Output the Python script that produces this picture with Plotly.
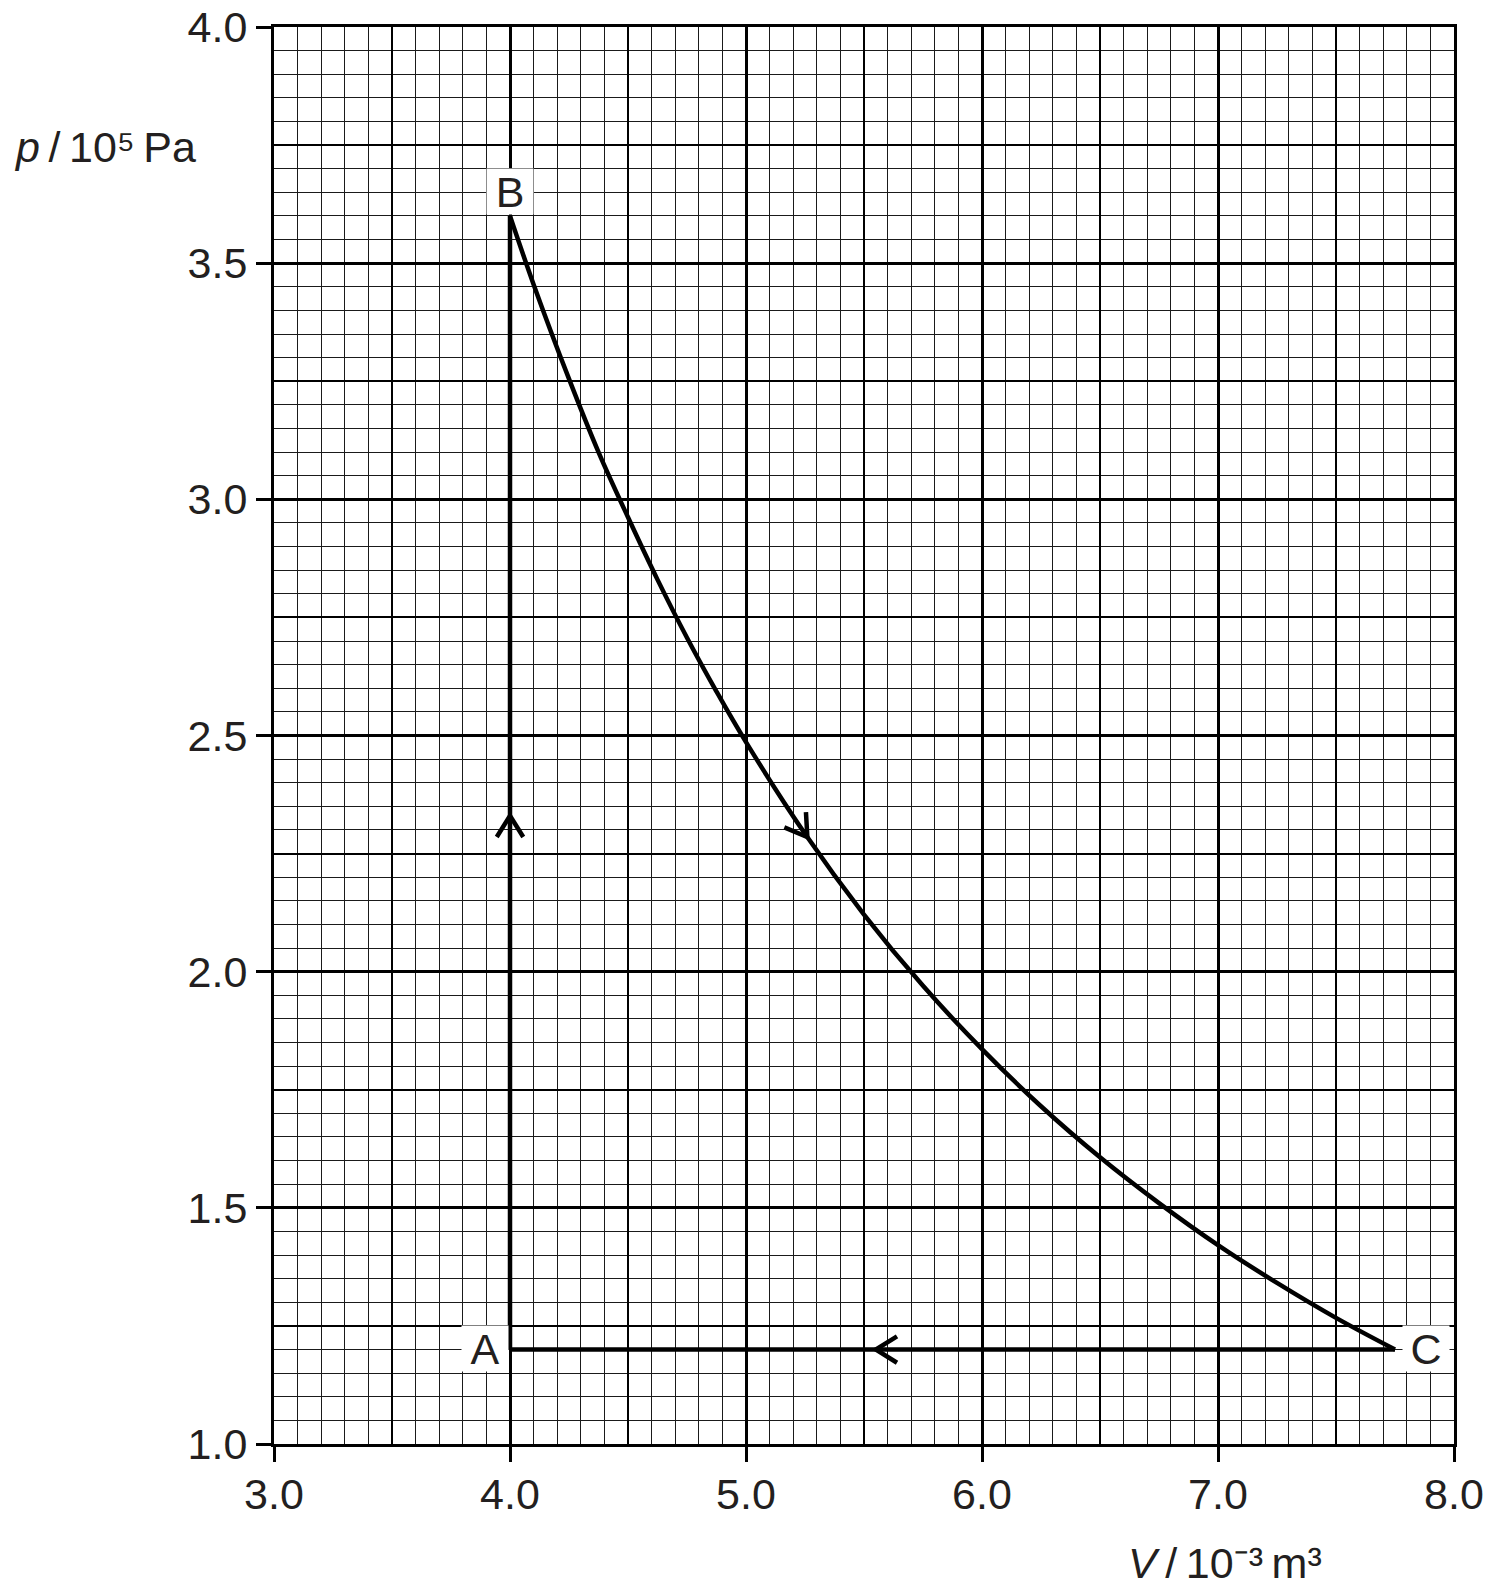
import numpy as np
import plotly.graph_objects as go

# ---- data ----
V_curve = [4.00, 4.10, 4.25, 4.375, 4.50, 4.625, 4.75, 4.875, 5.00, 5.25, 5.50, 5.75, 6.00, 6.25, 6.50, 6.75, 7.00, 7.25, 7.50, 7.75]
p_curve = [3.60, 3.455, 3.255, 3.10, 2.962, 2.83, 2.707, 2.593, 2.486, 2.292, 2.121, 1.970, 1.836, 1.715, 1.607, 1.510, 1.421, 1.341, 1.267, 1.20]

point_names = ["A", "B", "C"]
point_V = [4.00, 4.00, 7.75]
point_p = [1.20, 3.60, 1.20]

# arrow tip positions along A->B, B->C, C->A
arrow_V = [4.00, 5.26, 5.55]
arrow_p = [2.33, 2.285, 1.20]

x_ticks = [3.0, 4.0, 5.0, 6.0, 7.0, 8.0]
y_ticks = [1.0, 1.5, 2.0, 2.5, 3.0, 3.5, 4.0]
x_range = [3.0, 8.0]
y_range = [1.0, 4.0]

# ---- layout geometry ----
W, H = 1495, 1591
ML, MR, MT, MB = 274, 41, 27, 147
PW, PH = W - ML - MR, H - MT - MB
XPX = PW / (x_range[1] - x_range[0])
YPX = PH / (y_range[1] - y_range[0])

TXT = "#231f20"
FONT = "Liberation Sans, Arial, Helvetica, sans-serif"
LW = 4.5

fig = go.Figure()

# A -> B
fig.add_trace(go.Scatter(x=[point_V[0], point_V[1]], y=[point_p[0], point_p[1]], mode="lines",
                         line=dict(color="black", width=LW), hoverinfo="skip"))
# B -> C
fig.add_trace(go.Scatter(x=V_curve, y=p_curve, mode="lines",
                         line=dict(color="black", width=LW, shape="spline", smoothing=1.0), hoverinfo="skip"))
# C -> A
fig.add_trace(go.Scatter(x=[point_V[2], point_V[0]], y=[point_p[2], point_p[0]], mode="lines",
                         line=dict(color="black", width=LW), hoverinfo="skip"))


def direction(i):
    """direction of travel at arrow i, in pixel space (x right, y up)"""
    if i == 0:
        return np.array([0.0, 1.0])
    if i == 2:
        return np.array([-1.0, 0.0])
    v = arrow_V[i]
    dv = 0.02
    p1 = np.interp(v - dv, V_curve, p_curve)
    p2 = np.interp(v + dv, V_curve, p_curve)
    d = np.array([2 * dv * XPX, (p2 - p1) * YPX])
    return d / np.linalg.norm(d)


ARM = 25.0
ANG = np.deg2rad(32)
cx, cy = [], []
for i in range(3):
    back = -direction(i)
    pts = []
    for s in (1, -1):
        c, sn = np.cos(s * ANG), np.sin(s * ANG)
        r = np.array([back[0] * c - back[1] * sn, back[0] * sn + back[1] * c]) * ARM
        pts.append((arrow_V[i] + r[0] / XPX, arrow_p[i] + r[1] / YPX))
    cx += [pts[0][0], arrow_V[i], pts[1][0], None]
    cy += [pts[0][1], arrow_p[i], pts[1][1], None]
fig.add_trace(go.Scatter(x=cx, y=cy, mode="lines", line=dict(color="black", width=LW),
                         hoverinfo="skip"))

# dummy trace for overlay axes (medium grid)
fig.add_trace(go.Scatter(x=[None], y=[None], xaxis="x2", yaxis="y2", hoverinfo="skip"))

# point labels
anchors = {"A": dict(xanchor="right", yanchor="middle", xshift=-1, yshift=1),
           "B": dict(xanchor="center", yanchor="bottom", xshift=0, yshift=1),
           "C": dict(xanchor="left", yanchor="middle", xshift=7, yshift=1)}
for n, v, p in zip(point_names, point_V, point_p):
    fig.add_annotation(x=v, y=p, text=n, showarrow=False, bgcolor="white", borderpad=0,
                       width=46, height=45, align="center", valign="middle",
                       font=dict(size=43, color=TXT, family=FONT), **anchors[n])

# axis titles
fig.add_annotation(xref="paper", yref="paper", x=(12 - ML) / PW, y=1 - (147 - MT) / PH,
                   xanchor="left", yanchor="middle", showarrow=False,
                   text="<i>p</i>\u2009/\u200910\u2075\u2009Pa",
                   font=dict(size=43, color=TXT, family=FONT))
fig.add_annotation(xref="paper", yref="paper", x=(1225 - ML) / PW, y=-(1563 - (H - MB)) / PH,
                   xanchor="center", yanchor="middle", showarrow=False,
                   text="<i>V</i>\u2009/\u200910\u207b\u00b3\u2009m\u00b3",
                   font=dict(size=43, color=TXT, family=FONT))

axis_common = dict(showline=True, linewidth=3, linecolor="black", mirror=True,
                   ticks="outside", ticklen=15, tickwidth=3, tickcolor="black",
                   showgrid=True, gridcolor="black", gridwidth=3, zeroline=False,
                   automargin=False,
                   tickfont=dict(size=43, color=TXT, family=FONT), fixedrange=True)

fig.update_layout(
    template="none",
    width=W, height=H,
    margin=dict(l=ML, r=MR, t=MT, b=MB, pad=0),
    paper_bgcolor="white", plot_bgcolor="white",
    showlegend=False,
    xaxis=dict(range=x_range, tickvals=x_ticks, ticktext=[f"{t:.1f}" for t in x_ticks],
               ticklabelstandoff=-5,
               minor=dict(dtick=0.1, tick0=3.0, showgrid=True, gridcolor="#1a1a1a", gridwidth=1, ticks=""),
               **axis_common),
    yaxis=dict(range=y_range, tickvals=y_ticks, ticktext=[f"{t:.1f}" for t in y_ticks],
               minor=dict(dtick=0.05, tick0=1.0, showgrid=True, gridcolor="#1a1a1a", gridwidth=1, ticks=""),
               **axis_common),
    xaxis2=dict(range=x_range, overlaying="x", anchor="y2", dtick=0.5, tick0=3.0, showgrid=True,
                gridcolor="black", gridwidth=2, showticklabels=False, ticks="", showline=False,
                zeroline=False, fixedrange=True, automargin=False),
    yaxis2=dict(range=y_range, overlaying="y", anchor="x2", dtick=0.25, tick0=1.0, showgrid=True,
                gridcolor="black", gridwidth=2, showticklabels=False, ticks="", showline=False,
                zeroline=False, fixedrange=True, automargin=False),
)

fig.write_html("out.html")
